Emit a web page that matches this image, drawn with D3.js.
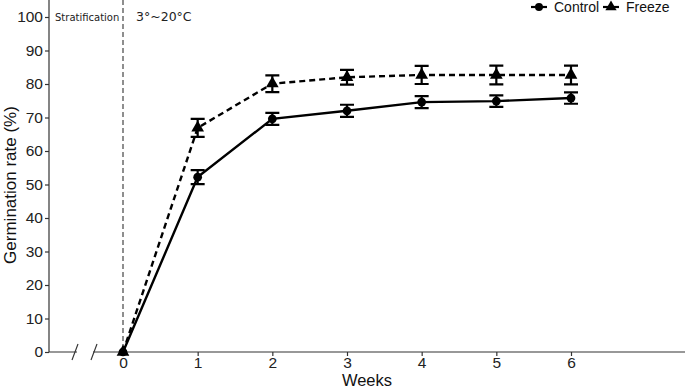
<!DOCTYPE html>
<html>
<head>
<meta charset="utf-8">
<script src="https://cdn.jsdelivr.net/npm/d3@7"></script>
<style>
  body { margin: 0; background: #fff; }
  svg text { font-family: "Liberation Sans", Arial, sans-serif; }
</style>
</head>
<body>
<script>
// data
const weeks = [0, 1, 2, 3, 4, 5, 6];
const control = [0, 52.2, 69.6, 72.0, 74.6, 74.9, 75.8];
const controlErr = [0, 2.1, 1.8, 1.8, 1.8, 1.7, 1.7];
const freeze = [0, 66.9, 80.1, 82.0, 82.7, 82.7, 82.7];
const freezeErr = [0, 2.7, 2.5, 2.2, 2.7, 2.8, 2.8];
const yTicks = [0, 10, 20, 30, 40, 50, 60, 70, 80, 90, 100];

const w = 685, h = 388;
const left = 49, bottom = 352;

const svg = d3.select("body").append("svg")
  .attr("width", w).attr("height", h);

const x = d3.scaleLinear().domain([0, 6]).range([123, 571]);
const y = d3.scaleLinear().domain([0, 100]).range([bottom, 17]);

// y axis
const yAxis = svg.append("g")
  .attr("transform", "translate(" + left + ",0)")
  .call(d3.axisLeft(y).tickValues(yTicks).tickFormat(d3.format("d")).tickSize(4).tickPadding(2));
yAxis.select(".domain").attr("d", "M0,0V" + bottom);

// x axis
const xAxis = svg.append("g")
  .attr("transform", "translate(0," + bottom + ")")
  .call(d3.axisBottom(x).tickValues(weeks).tickFormat(d3.format("d")).tickSize(4).tickPadding(1));
xAxis.select(".domain").attr("d", "M" + left + ",0H" + w);

svg.selectAll(".domain, .tick line").attr("stroke", "#333").attr("stroke-width", 1.2);
svg.selectAll(".tick text").attr("fill", "#222").style("font-size", "15.5px");

// axis break
svg.append("rect").attr("x", 77).attr("y", bottom - 2).attr("width", 16).attr("height", 4).attr("fill", "#fff");
[75, 94].forEach(function (bx) {
  svg.append("line")
    .attr("x1", bx - 3).attr("y1", bottom + 8)
    .attr("x2", bx + 3).attr("y2", bottom - 8)
    .attr("stroke", "#333").attr("stroke-width", 1.2);
});

// stratification line
svg.append("line")
  .attr("x1", x(0)).attr("x2", x(0)).attr("y1", 0).attr("y2", bottom)
  .attr("stroke", "#444").attr("stroke-width", 1.2).attr("stroke-dasharray", "5,3");

svg.append("text").attr("x", 55).attr("y", 21)
  .style("font-family", "'DejaVu Sans', sans-serif").style("font-size", "10px").attr("fill", "#222")
  .text("Stratification");
svg.append("text").attr("x", 136).attr("y", 21)
  .style("font-family", "'DejaVu Sans', sans-serif").style("font-size", "12.5px").attr("fill", "#222")
  .text("3°~20°C");

// axis titles
svg.append("text")
  .attr("transform", "translate(16,185) rotate(-90)")
  .attr("text-anchor", "middle").style("font-size", "17px").attr("fill", "#111")
  .text("Germination rate (%)");
svg.append("text")
  .attr("x", (left + w) / 2).attr("y", 386)
  .attr("text-anchor", "middle").style("font-size", "16.5px").attr("fill", "#111")
  .text("Weeks");

// series
const series = [
  { name: "Control", vals: control, err: controlErr, dash: null, shape: d3.symbolCircle, size: 60 },
  { name: "Freeze", vals: freeze, err: freezeErr, dash: "6,4", shape: d3.symbolTriangle, size: 70 }
];

const line = d3.line()
  .x(function (d, i) { return x(weeks[i]); })
  .y(function (d) { return y(d); });

series.forEach(function (s) {
  const g = svg.append("g");
  g.append("path")
    .attr("d", line(s.vals))
    .attr("fill", "none").attr("stroke", "#000").attr("stroke-width", 2.4)
    .attr("stroke-dasharray", s.dash);

  const eb = g.selectAll(".eb").data(s.vals.slice(1)).enter().append("g");
  eb.append("path")
    .attr("d", function (d, i) {
      const cx = x(weeks[i + 1]);
      const y1 = y(d + s.err[i + 1]), y0 = y(d - s.err[i + 1]);
      return "M" + (cx - 7) + "," + y1 + "H" + (cx + 7) +
        "M" + cx + "," + y1 + "V" + y0 +
        "M" + (cx - 7) + "," + y0 + "H" + (cx + 7);
    })
    .attr("fill", "none").attr("stroke", "#000").attr("stroke-width", 2.2);

  g.selectAll(".pt").data(s.vals).enter().append("path")
    .attr("transform", function (d, i) { return "translate(" + x(weeks[i]) + "," + y(d) + ")"; })
    .attr("d", d3.symbol().type(s.shape).size(s.size))
    .attr("fill", "#000");
});

// legend
const legend = [
  { name: "Control", x: 531, shape: d3.symbolCircle, size: 50 },
  { name: "Freeze", x: 603, shape: d3.symbolTriangle, size: 55 }
];
legend.forEach(function (l) {
  svg.append("line").attr("x1", l.x).attr("x2", l.x + 16).attr("y1", 7).attr("y2", 7)
    .attr("stroke", "#000").attr("stroke-width", 2.2);
  svg.append("path").attr("transform", "translate(" + (l.x + 8) + ",7)")
    .attr("d", d3.symbol().type(l.shape).size(l.size)).attr("fill", "#000");
  svg.append("text").attr("x", l.x + 23).attr("y", 12)
    .style("font-size", "14px").attr("fill", "#111").text(l.name);
});
</script>
</body>
</html>
